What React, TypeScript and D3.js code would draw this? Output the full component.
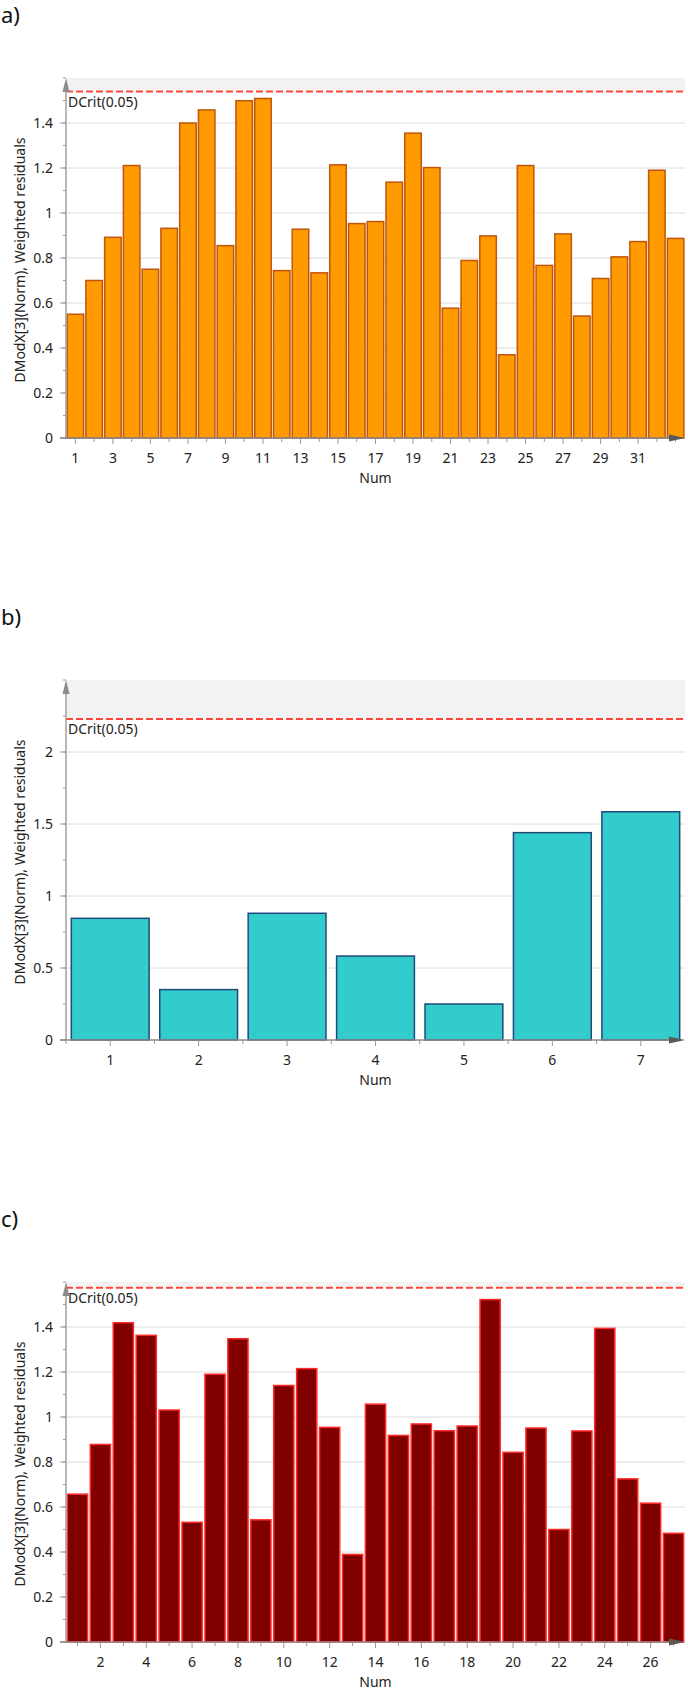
import React, { useEffect, useRef } from "react";
import * as d3 from "d3";

// panel a) - 33 observations
const numsA = [1, 2, 3, 4, 5, 6, 7, 8, 9, 10, 11, 12, 13, 14, 15, 16, 17, 18, 19, 20, 21, 22, 23, 24, 25, 26, 27, 28, 29, 30, 31, 32, 33];
const valuesA = [0.55, 0.7, 0.892, 1.211, 0.75, 0.932, 1.4, 1.458, 0.855, 1.499, 1.509, 0.744, 0.928, 0.734, 1.214, 0.953, 0.962, 1.137, 1.355, 1.202, 0.577, 0.789, 0.898, 0.37, 1.211, 0.767, 0.907, 0.542, 0.709, 0.805, 0.873, 1.19, 0.887];
const xLabelsA = [1, 3, 5, 7, 9, 11, 13, 15, 17, 19, 21, 23, 25, 27, 29, 31];
const yTicksA = [0, 0.2, 0.4, 0.6, 0.8, 1, 1.2, 1.4];
const dcritA = 1.54;

// panel b) - 7 observations
const numsB = [1, 2, 3, 4, 5, 6, 7];
const valuesB = [0.845, 0.35, 0.88, 0.583, 0.25, 1.44, 1.585];
const xLabelsB = [1, 2, 3, 4, 5, 6, 7];
const yTicksB = [0, 0.5, 1, 1.5, 2];
const dcritB = 2.23;

// panel c) - 27 observations
const numsC = [1, 2, 3, 4, 5, 6, 7, 8, 9, 10, 11, 12, 13, 14, 15, 16, 17, 18, 19, 20, 21, 22, 23, 24, 25, 26, 27];
const valuesC = [0.657, 0.878, 1.419, 1.363, 1.031, 0.532, 1.19, 1.348, 0.543, 1.14, 1.215, 0.954, 0.389, 1.057, 0.918, 0.969, 0.939, 0.96, 1.522, 0.843, 0.951, 0.5, 0.938, 1.394, 0.725, 0.617, 0.483];
const xLabelsC = [2, 4, 6, 8, 10, 12, 14, 16, 18, 20, 22, 24, 26];
const yTicksC = [0, 0.2, 0.4, 0.6, 0.8, 1, 1.2, 1.4];
const dcritC = 1.575;

const yTitle = "DModX[3](Norm), Weighted residuals";
const xTitle = "Num";
const critLabel = "DCrit(0.05)";

const FONT = "'Segoe UI', 'Noto Sans', sans-serif";
const LEFT = 66;
const RIGHT = 685;
const PLOT_H = 360;

function drawPanel(root: any, opts: any) {
  const { label, top, cats, values, yMax, yTicks, yMinorStep, dcrit, xLabels, xMinor, fill, stroke } = opts;
  const bottom = top + PLOT_H;
  const g = root.append("g");

  const y = d3.scaleLinear().domain([0, yMax]).range([bottom, top]);
  const xb = d3.scaleBand<number>().domain(cats).range([LEFT, RIGHT]).paddingInner(0.12).paddingOuter(0.06);
  const x = d3.scaleLinear().domain([0.5, cats.length + 0.5]).range([LEFT, RIGHT]);

  // panel letter
  g.append("text")
    .attr("x", 1)
    .attr("y", top - 55)
    .attr("font-size", 22)
    .attr("fill", "#111")
    .text(label);

  // shaded zone above the critical limit
  g.append("rect")
    .attr("x", LEFT)
    .attr("y", top)
    .attr("width", RIGHT - LEFT)
    .attr("height", y(dcrit) - top - 1)
    .attr("fill", "#f2f2f2");

  // grid lines
  g.selectAll(".grid")
    .data(yTicks.filter((t: number) => t > 0))
    .join("line")
    .attr("x1", LEFT)
    .attr("x2", RIGHT)
    .attr("y1", (d: number) => y(d))
    .attr("y2", (d: number) => y(d))
    .attr("stroke", "#dcdcdc")
    .attr("stroke-width", 1);

  // bars
  g.selectAll(".bar")
    .data(values)
    .join("rect")
    .attr("x", (d: number, i: number) => xb(cats[i])!)
    .attr("y", (d: number) => y(d))
    .attr("width", xb.bandwidth())
    .attr("height", (d: number) => bottom - y(d))
    .attr("fill", fill)
    .attr("stroke", stroke)
    .attr("stroke-width", 1.5);

  // critical line
  g.append("line")
    .attr("x1", LEFT)
    .attr("x2", RIGHT)
    .attr("y1", y(dcrit))
    .attr("y2", y(dcrit))
    .attr("stroke", "#ff4338")
    .attr("stroke-width", 2)
    .attr("stroke-dasharray", "7,3");

  g.append("text")
    .attr("x", LEFT + 2)
    .attr("y", y(dcrit) + 15.5)
    .attr("font-size", 14)
    .attr("fill", "#222")
    .text(critLabel);

  // y minor ticks
  const minor = d3.range(0, yMax + 1e-9, yMinorStep);
  g.selectAll(".yminor")
    .data(minor)
    .join("line")
    .attr("x1", LEFT - 3)
    .attr("x2", LEFT)
    .attr("y1", (d: number) => y(d))
    .attr("y2", (d: number) => y(d))
    .attr("stroke", "#999");

  // y major ticks and labels
  g.selectAll(".ymajor")
    .data(yTicks)
    .join("line")
    .attr("x1", LEFT - 6)
    .attr("x2", LEFT)
    .attr("y1", (d: number) => y(d))
    .attr("y2", (d: number) => y(d))
    .attr("stroke", "#999");

  g.selectAll(".ylab")
    .data(yTicks)
    .join("text")
    .attr("x", LEFT - 13)
    .attr("y", (d: number) => y(d))
    .attr("dy", "0.35em")
    .attr("text-anchor", "end")
    .attr("font-size", 14)
    .attr("fill", "#222")
    .text((d: number) => String(+d.toFixed(1)));

  // x ticks
  g.selectAll(".xminor")
    .data(xMinor)
    .join("line")
    .attr("x1", (d: number) => x(d))
    .attr("x2", (d: number) => x(d))
    .attr("y1", bottom)
    .attr("y2", bottom + 4)
    .attr("stroke", "#999");

  g.selectAll(".xmajor")
    .data(xLabels)
    .join("line")
    .attr("x1", (d: number) => x(d))
    .attr("x2", (d: number) => x(d))
    .attr("y1", bottom)
    .attr("y2", bottom + 6)
    .attr("stroke", "#999");

  g.selectAll(".xlab")
    .data(xLabels)
    .join("text")
    .attr("x", (d: number) => x(d))
    .attr("y", bottom + 24.5)
    .attr("text-anchor", "middle")
    .attr("font-size", 14)
    .attr("fill", "#222")
    .text((d: number) => d);

  // axis lines
  g.append("line")
    .attr("x1", LEFT)
    .attr("x2", LEFT)
    .attr("y1", bottom)
    .attr("y2", top + 8)
    .attr("stroke", "#a0a0a0")
    .attr("stroke-width", 1.5);
  g.append("line")
    .attr("x1", LEFT - 6)
    .attr("x2", RIGHT - 10)
    .attr("y1", bottom)
    .attr("y2", bottom)
    .attr("stroke", "#8a8a8a")
    .attr("stroke-width", 1.5);

  // axis arrows
  g.append("path")
    .attr("d", `M${LEFT},${top} L${LEFT - 3.5},${top + 14} L${LEFT + 3.5},${top + 14} Z`)
    .attr("fill", "#8c8c8c");
  g.append("path")
    .attr("d", `M${RIGHT},${bottom} L${RIGHT - 16},${bottom - 3.5} L${RIGHT - 16},${bottom + 3.5} Z`)
    .attr("fill", "#5a5a5a");

  // axis titles
  g.append("text")
    .attr("x", (LEFT + RIGHT) / 2)
    .attr("y", bottom + 45)
    .attr("text-anchor", "middle")
    .attr("font-size", 14)
    .attr("fill", "#222")
    .text(xTitle);

  g.append("text")
    .attr("transform", `translate(25,${(top + bottom) / 2 + 2}) rotate(-90)`)
    .attr("text-anchor", "middle")
    .attr("font-size", 14)
    .attr("fill", "#222")
    .text(yTitle);
}

export default function App() {
  const ref = useRef<SVGSVGElement>(null);

  useEffect(() => {
    const svg = d3.select(ref.current);
    svg.selectAll("*").remove();
    const root = svg.append("g").attr("font-family", FONT);

    drawPanel(root, {
      label: "a)",
      top: 78,
      cats: numsA,
      values: valuesA,
      yMax: 1.6,
      yTicks: yTicksA,
      yMinorStep: 0.1,
      dcrit: dcritA,
      xLabels: xLabelsA,
      xMinor: numsA.filter((n) => !xLabelsA.includes(n)),
      fill: "#ff9a00",
      stroke: "#c0560c",
    });

    drawPanel(root, {
      label: "b)",
      top: 680,
      cats: numsB,
      values: valuesB,
      yMax: 2.5,
      yTicks: yTicksB,
      yMinorStep: 0.25,
      dcrit: dcritB,
      xLabels: xLabelsB,
      xMinor: numsB.map((n) => n - 0.5),
      fill: "#33cccc",
      stroke: "#1f4a7a",
    });

    drawPanel(root, {
      label: "c)",
      top: 1282,
      cats: numsC,
      values: valuesC,
      yMax: 1.6,
      yTicks: yTicksC,
      yMinorStep: 0.1,
      dcrit: dcritC,
      xLabels: xLabelsC,
      xMinor: numsC.filter((n) => !xLabelsC.includes(n)),
      fill: "#800000",
      stroke: "#ff2a2a",
    });
  }, []);

  return (
    <svg
      ref={ref}
      width={688}
      height={1690}
      style={{ position: "absolute", left: 0, top: 0, background: "#fff" }}
    />
  );
}
